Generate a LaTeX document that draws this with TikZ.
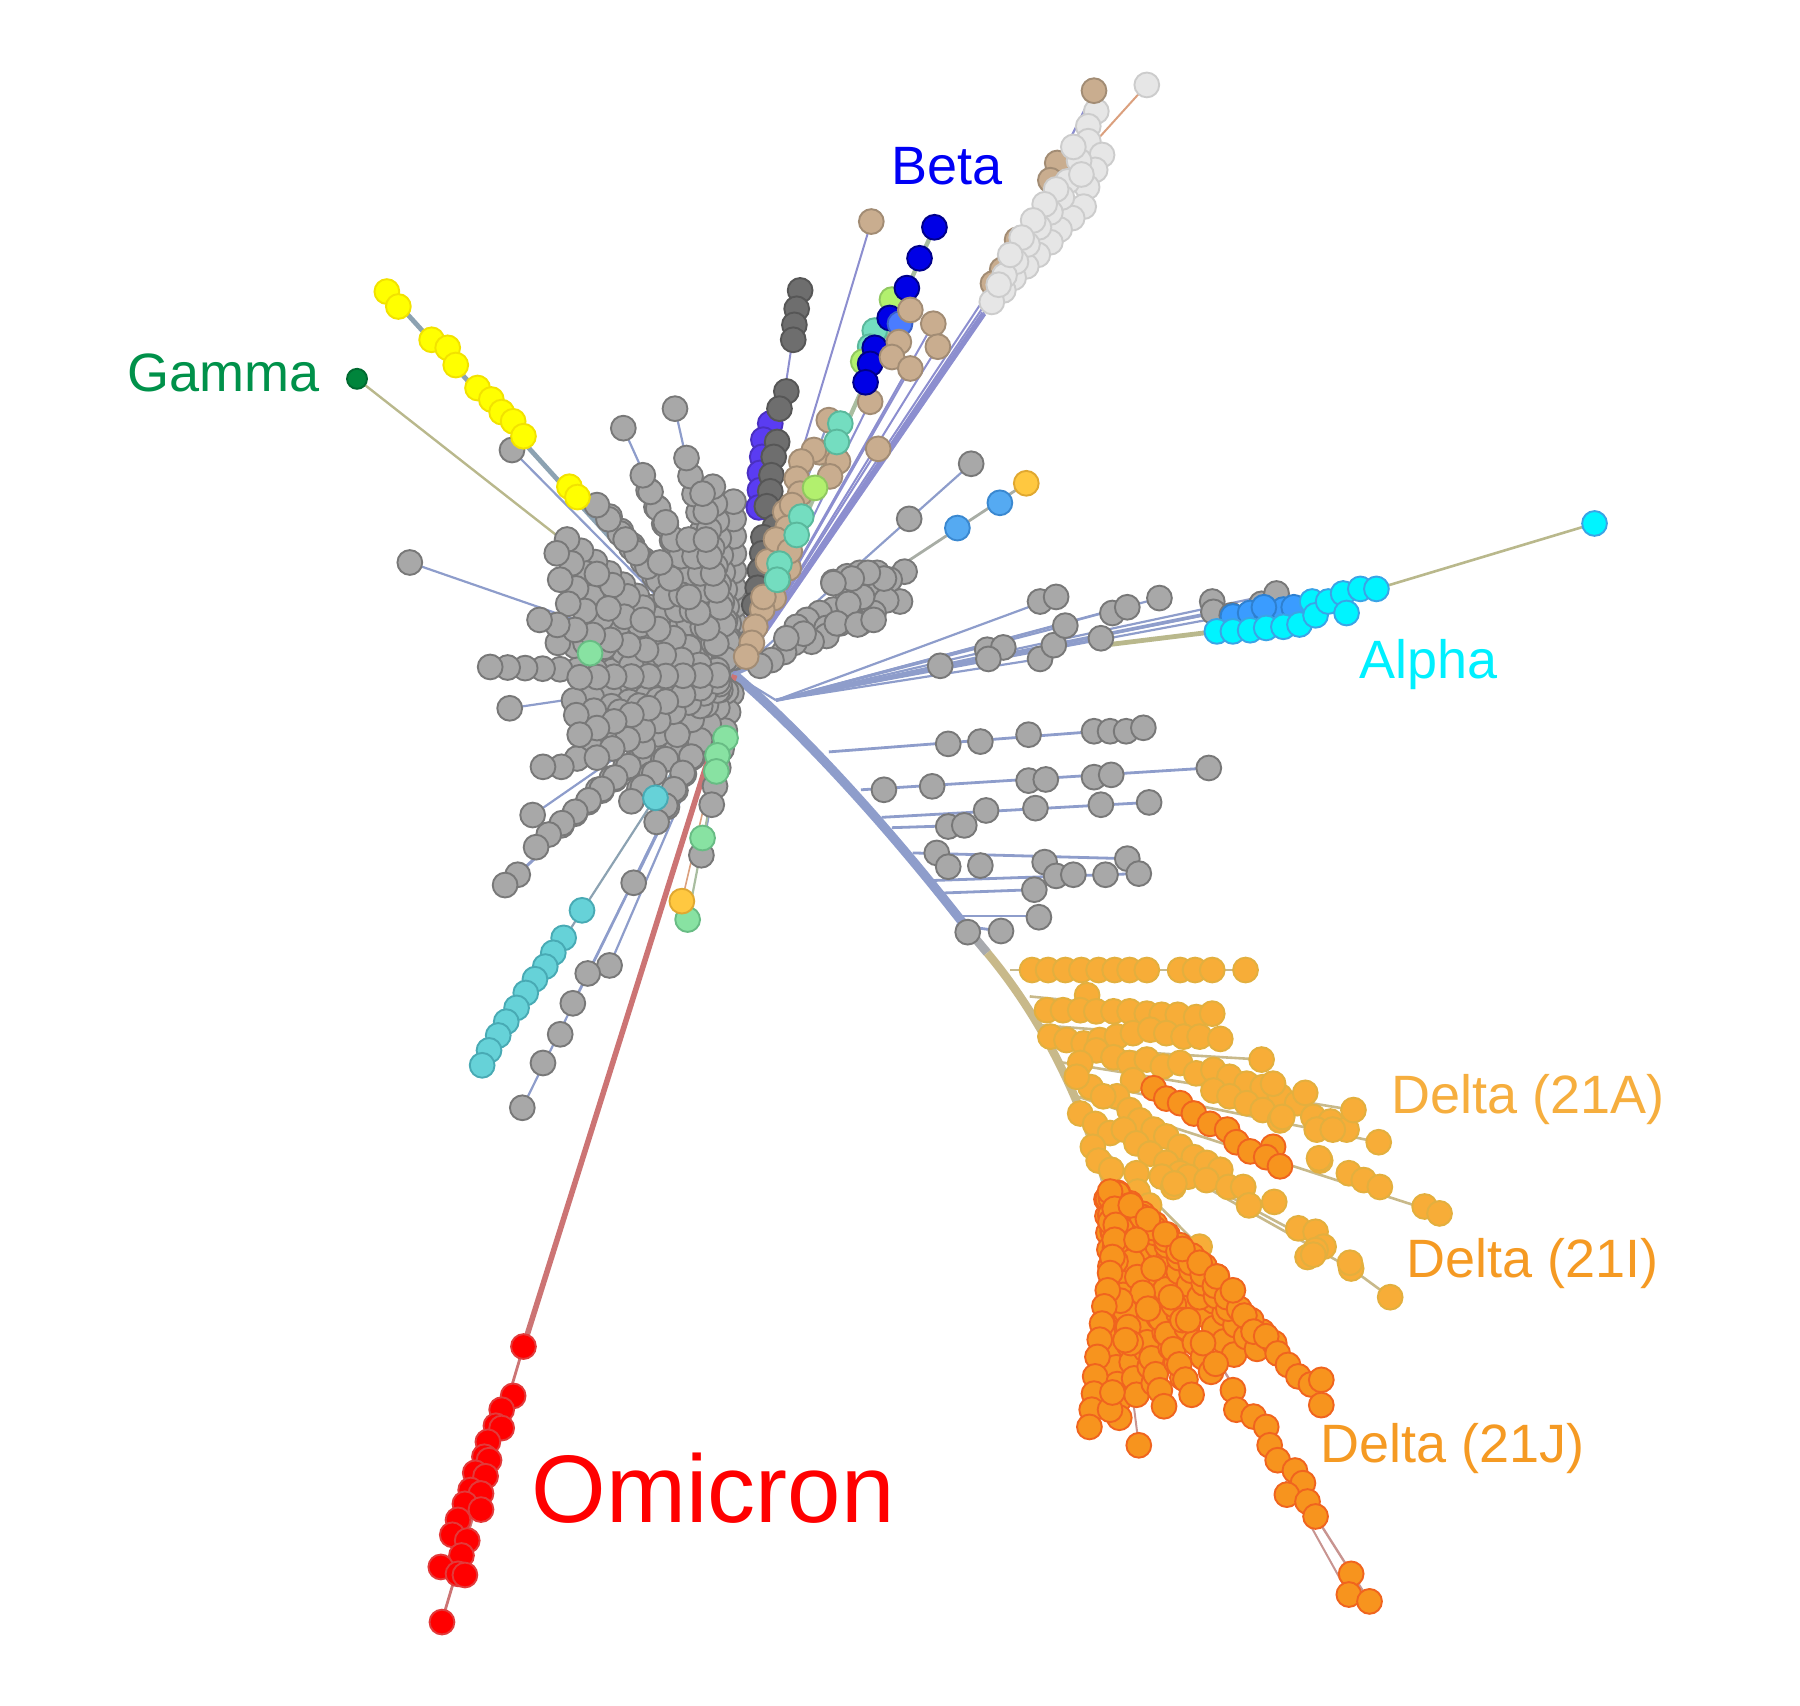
\documentclass[tikz,border=0pt]{standalone}
\usepackage{fontspec}
\setmainfont{Liberation Sans}
\usetikzlibrary{calc}

% dot colours (fill / rim)
\definecolor{gfill}{HTML}{A8A8A8}\definecolor{gedge}{HTML}{787878}
\definecolor{kfill}{HTML}{6E6E6E}\definecolor{kedge}{HTML}{565656}
\definecolor{wfill}{HTML}{E6E6E6}\definecolor{wedge}{HTML}{CCCCCC}
\definecolor{tfill}{HTML}{C9AD8F}\definecolor{tedge}{HTML}{A28C74}
\definecolor{bfill}{HTML}{0000E6}\definecolor{bedge}{HTML}{00008A}
\definecolor{pfill}{HTML}{5A3CF2}\definecolor{pedge}{HTML}{4A30C0}
\definecolor{mfill}{HTML}{74DDC0}\definecolor{medge}{HTML}{5AB89C}
\definecolor{lfill}{HTML}{B2F06E}\definecolor{ledge}{HTML}{90C860}
\definecolor{cfill}{HTML}{66D2D8}\definecolor{cedge}{HTML}{48AAB4}
\definecolor{efill}{HTML}{88E2A2}\definecolor{eedge}{HTML}{68BC84}
\definecolor{afill}{HTML}{00F4FF}\definecolor{aedge}{HTML}{3AA4E6}
\definecolor{sfill}{HTML}{55AAF2}\definecolor{sedge}{HTML}{3A88D0}
\definecolor{vfill}{HTML}{3A9CFF}\definecolor{vedge}{HTML}{2E80D0}
\definecolor{nfill}{HTML}{4A7CFF}\definecolor{nedge}{HTML}{3A60C8}
\definecolor{ufill}{HTML}{FFC840}\definecolor{uedge}{HTML}{E0A830}
\definecolor{ofill}{HTML}{F7AD38}\definecolor{oedge}{HTML}{E3AF3E}
\definecolor{jfill}{HTML}{F7941E}\definecolor{jedge}{HTML}{F0641E}
\definecolor{rfill}{HTML}{FF0000}\definecolor{redge}{HTML}{E23A3A}
\definecolor{yfill}{HTML}{FFFF00}\definecolor{yedge}{HTML}{F2E200}
\definecolor{zfill}{HTML}{00853C}\definecolor{zedge}{HTML}{006A30}
% line colours
\definecolor{twigc}{HTML}{8E9DCB}
\definecolor{purpc}{HTML}{8C8ECF}
\definecolor{tanc}{HTML}{C8B98A}
\definecolor{redc}{HTML}{CC7474}
\definecolor{olivec}{HTML}{B9B88C}
\definecolor{rosyc}{HTML}{C89490}
\definecolor{sagec}{HTML}{A9BDA0}
\definecolor{steelc}{HTML}{8CA2B2}
\definecolor{brownc}{HTML}{DBA07E}
% label colours
\definecolor{betac}{HTML}{0000F5}
\definecolor{gammac}{HTML}{00914A}
\definecolor{alphac}{HTML}{00F0FF}
\definecolor{dac}{HTML}{F6AE3E}
\definecolor{dic}{HTML}{F59A23}
\definecolor{djc}{HTML}{F59A23}
\definecolor{omic}{HTML}{FF0000}

\tikzset{
  blob/.style={line width=0.95pt},
  gdot/.style={blob,fill=gfill,draw=gedge},
  kdot/.style={blob,fill=kfill,draw=kedge},
  wdot/.style={blob,fill=wfill,draw=wedge},
  tdot/.style={blob,fill=tfill,draw=tedge},
  bdot/.style={blob,fill=bfill,draw=bedge},
  pdot/.style={blob,fill=pfill,draw=pedge},
  mdot/.style={blob,fill=mfill,draw=medge},
  ldot/.style={blob,fill=lfill,draw=ledge},
  cdot/.style={blob,fill=cfill,draw=cedge},
  edot/.style={blob,fill=efill,draw=eedge},
  adot/.style={blob,fill=afill,draw=aedge},
  sdot/.style={blob,fill=sfill,draw=sedge},
  vdot/.style={blob,fill=vfill,draw=vedge},
  ndot/.style={blob,fill=nfill,draw=nedge},
  udot/.style={blob,fill=ufill,draw=uedge},
  odot/.style={blob,fill=ofill,draw=oedge},
  jdot/.style={blob,fill=jfill,draw=jedge},
  rdot/.style={blob,fill=rfill,draw=redge},
  ydot/.style={blob,fill=yfill,draw=yedge},
  zdot/.style={blob,fill=zfill,draw=zedge},
  twig/.style={draw=twigc,line width=1.1pt},
  tag/.style={font=\fontsize{27}{30}\selectfont,anchor=base west,inner sep=0pt},
}
\def\rr{6.2pt}
\newcommand\blobs[2]{\foreach \bx/\by in {#2} \path[#1] (\bx,\by) circle[radius=\rr];}

\def\hubtips{639/437,621/424,598/399,612/430,565/427,560/414,531/450,520/440,494/470,485/482,488/505,495/526,486/560,427/581,500/610,502/623,489/668,521/688,489/719,478/727,557/687,581/703,620/701,550/698,572/716,545/470,580/455,600/470,615/470,520/500,530/530,510/560,540/620,560/650,590/640,610/615,580/520,560/540,550/580,575/490,600/520,520/660,505/640,470/540,505/590}
\def\hubsingles{588/356,543/373,357/490,444/617,446/392,473/668,464/710,467/738,451/762,440/771,552/769,611/745}
\def\jtips{975/1235,990/1215,1005/1205,1014/1225,1030/1200,1038/1215,1055/1195,1075/1180,1095/1175,1110/1170,1030/1150,985/1170,1060/1112,1045/1130,1070/1140,1090/1150,1000/1140}

\begin{document}
\begin{tikzpicture}[x=0.574pt,y=-0.574pt]
\useasboundingbox (0,0) rectangle (1568,1486);
\coordinate (H) at (640,588);
\coordinate (T) at (845,812);
\coordinate (R) at (963,1030);
\coordinate (O) at (456,1173);
\coordinate (A) at (676,610);

% ---------- branches
\foreach \tx/\ty in \hubtips \draw[twig] (H) -- (\tx,\ty);
\foreach \tx/\ty in \hubsingles \draw[twig] (H) -- (\tx,\ty);
\draw[twig] (H) -- (455,965);
\draw[twig] (H) -- (531,841);
\draw[twig] (H) -- (499,874);
\draw[twig,draw=steelc] (H) -- (420,928);
\draw[twig,draw=sagec] (H) -- (599,801);
\draw[brownc,line width=0.8pt] (H) -- (594,785);
\draw[olivec,line width=1.2pt] (311,330) -- (H);
\draw[steelc,line width=2.4pt] (337,254) -- (H);
\draw[purpc,line width=1pt] (697,253) -- (662,482) -- (H);
\draw[twig] (H) -- (722,366);
\draw[sagec,line width=1.4pt] (H) -- (732,369);
\draw[purpc,line width=1pt] (H) -- (758,350);
\draw[purpc,line width=1pt] (H) -- (765,391);
\draw[sagec,line width=2.2pt] (814,198) -- (H);
\foreach \tx/\ty in {759/193,817/302,793/321,813/282} \draw[purpc,line width=1pt] (H) -- (\tx,\ty);
\draw[purpc,line width=2.8pt] (H) -- (857,273);
\draw[purpc,line width=1.1pt] (857,273) -- (953,79);
\draw[purpc,line width=1pt] (H) -- (866,247);
\draw[purpc,line width=1pt] (H) -- (875,240);
\draw[brownc,line width=1pt] (932,148) -- (999,74);
\draw[twig] (H) -- (846,404);
\draw[olivec!60!twigc,line width=1.4pt] (H) -- (894,421);
\foreach \tx/\ty in {788/498,784/524,775/505} \draw[twig] (H) -- (\tx,\ty);
\draw[twig] (H) -- (A);
\foreach \tx/\ty in {920/520,982/528,1010/521,1112/517,1099/526,1073/536,819/580,874/564,906/574,928/545,959/556} \draw[twig] (A) -- (\tx,\ty);
\draw[twig,line width=1.8pt] (A) -- (1056,534);
\draw[olivec,line width=2.4pt] (962,562) -- (1060,550);
\draw[olivec,line width=1.3pt] (1199,513) -- (1389,456);
% trunk to Delta
\draw[twigc,line width=4.6pt] (H) .. controls (695,635) and (770,715) .. (T);
\draw[twigc!55!tanc,line width=4.4pt] (T) -- (860,830);
\draw[tanc,line width=4.2pt] (860,830) .. controls (895,872) and (935,935) .. (R);
\foreach \sx/\sy/\ex/\ey in {722/655/996/634,750/688/1053/669,768/712/1001/699,777/721/840/719,795/743/982/748,813/767/992/761,819/778/901/775,838/798/905/798,833/806/872/811}
  \draw[twig,line width=1.4pt] (\sx,\sy) -- (\ex,\ey);
\foreach \sx/\sy/\ex/\ey in {880/845/1085/845,897/868/1056/884,905/893/1063/905,915/912/1099/923,922/925/1179/967,930/940/1201/995,938/955/1254/1057,945/975/1177/1105,1177/1105/1211/1130,945/975/1153/1086,955/995/1045/1086,985/940/1115/1016}
  \draw[tanc,line width=1.3pt] (\sx,\sy) -- (\ex,\ey);
\foreach \tx/\ty in \jtips \draw[rosyc,line width=1pt] (R) -- (\tx,\ty);
\draw[rosyc,line width=1.2pt] (R) -- (1146,1321) -- (1193,1395);
\draw[rosyc,line width=1pt] (1120,1290) -- (1175,1389);
\draw[rosyc,line width=1pt] (R) -- (1151,1224);
\draw[rosyc,line width=1pt] (R) -- (992,1259);
\draw[rosyc,line width=1pt] (R) -- (950,1243);
% Omicron stem
\draw[redc,line width=2.8pt] (H) -- (O);
\draw[redc,line width=1.4pt] (O) -- (385,1412);

% ---------- dots: central cluster
\foreach \tx/\ty in \hubtips {
  \pgfmathtruncatemacro\nd{veclen(\tx-640,\ty-588)/15}
  \foreach \k in {1,...,\nd} \path[gdot] ($(H)!{\k/\nd}!(\tx,\ty)$) circle[radius=\rr];
}
\foreach \tx/\ty in \hubsingles \path[gdot] (\tx,\ty) circle[radius=\rr];
\blobs{edot}{514/569}
\blobs{gdot}{531/841,512/848,499/874,488/901,473/926,455/965}
\blobs{cdot}{571/695,507/793,491/817,482/830,475/842,466/853,458/865,450/878,441/890,434/902,426/915,420/928}
\blobs{edot}{632/643,625/658,624/672,612/730,599/801}
\blobs{udot}{594/785}
% right of the hub
\blobs{gdot}{788/498,784/524,726/507,738/502,749/499,764/499,775/505,761/511,749/520,738/523,726/531,714/534,703/540,694/546,740/534,732/543,720/547,772/523,761/534,749/543,720/554,707/559,692/560,683/568,751/520,739/526,770/504,756/499,742/504,726/508,729/543,747/544,761/540,672/575,662/580,700/552,685/556}
\blobs{gdot}{906/524,920/520,969/534,982/529,1010/521,1056/524,1057/533,1073/536,1099/526,1112/517,819/580,860/566,874/564,861/574,906/574,918/562,928/545,959/556}
\blobs{gdot}{826/648,854/646,896/640,953/637,967/637,981/637,996/634,770/688,812/685,896/680,911/679,953/677,968/675,1053/669,859/706,902/704,959/701,1001/699,826/720,840/719,816/743,826/755,854/754,910/751,982/748,920/763,935/762,963/762,992/761,901/775,905/799,872/811,843/812}
% Gamma and the yellow branch
\blobs{ydot}{337/254,347/267,376/296,390/303,397/318,416/338,428/348,437/359,447/367,456/380,496/424,503/433}
\path[zdot] (311,330) circle[radius=5pt];
% dark column
\blobs{pdot}{671/369,665/383,664/398,662/412,662/427,661/442}
\blobs{kdot}{697/253,694/269,692/283,691/296,685/341,679/356,677/385,674/398,672/414,671/428,668/441,675/459,665/468,664/482,662/497,660/512,657/527}
% tan and teal column
\blobs{tdot}{722/366,714/394,709/392,698/402,694/417,730/402,723/415,697/430,684/446,681/476,687/495,669/489,674/521,664/531,658/546,690/440,686/460,678/505,676/470,688/480,665/520,655/560,650/572,758/350,765/391}
\blobs{mdot}{732/369,729/385,698/450,694/466,679/491,677/505}
\blobs{ldot}{710/425}
% Beta
\blobs{mdot}{762/288,758/302}
\blobs{ldot}{777/261,752/315}
\blobs{bdot}{814/198,801/225,790/251,775/277,762/303,758/317,754/333}
\blobs{ndot}{784/282}
\blobs{tdot}{793/270,813/282,783/298,817/302,777/311,793/321,759/193}
% light grey branch
\blobs{tdot}{921/142,915/157,886/209,873/235,865/247}
\blobs{wdot}{999/74,955/97,948/110,948/123,960/135,954/148,947/163,944/180,934/190,923/200,915/211,904/222,894/232,883/242,874/253,864/263,940/140,930/158,925/172,915/185,905/198,895/213,885/228,875/240,935/128,942/152,920/165,910/178,900/192,890/207,880/222,870/248}
\blobs{tdot}{953/79}
\blobs{gdot}{792/452,846/404}
\blobs{sdot}{834/460,871/438}
\blobs{udot}{894/421}
% Alpha
\blobs{vdot}{1074/537,1089/534,1103/533,1118/531,1127/529,1101/529}
\blobs{adot}{1060/550,1074/550,1089/549,1103/547,1118/546,1132/544,1143/524,1146/536,1157/524,1170/517,1185/513,1199/513,1173/534,1389/456}
% Delta 21A / 21I
\blobs{odot}{899/845,913/845,928/845,942/845,957/845,971/845,984/845,999/845,1028/845,1041/845,1056/845,1085/845}
\blobs{odot}{947/867,912/880,926/880,941/880,955/881,970/881,984/881,999/883,1012/884,1026/884,1042/886,1056/883}
\blobs{odot}{915/903,929/906,944/909,958/906,973/903,987/900,1002/897,1016/900,1031/903,1045/903,1063/905}
\blobs{odot}{955/915,941/926,970/921,984/926,999/923,1013/929,1028/926,1042/935,1057/932,1071/938,1086/944,1100/947,1099/923,1115/955,1130/961,1144/973,1159/977,1173/984,1179/967,1109/944,1137/952,1057/950,1071/955,1086/961,1100/967,1115/976,987/941,950/947,973/955,984/967,993/976,1005/984,1016/990,1028/999,1040/1008,1051/1013,1063/1019,938/938,961/955,941/970,954/979,967/987,979/984,990/996,1002/1005,1016/1013,1028/1022}
\blobs{odot}{952/999,957/1011,968/1019,990/1022,1012/1025,1022/1034,1035/1025,1051/1028,1070/1034,1083/1034,1000/1051,990/1040,1045/1086,1117/973,1147/984,1161/984,1150/1011,1175/1022,1188/1028,1202/1034,1201/995,1241/1051,1254/1057,1088/1050,1110/1047,1131/1070,1146/1073,1139/1095,1153/1086,1146/1089,1177/1105,1211/1130,1144/1093,1176/1100,1149/1009,991/1038,1001/1050,1023/1031}
\blobs{jdot}{1005/948,1016/957,1028/961,1040/970,1054/979,1069/984,1077/995,1089/1003,1109/999,1103/1008,1115/1016}
% Delta 21J
\foreach \tx/\ty in \jtips {
  \pgfmathtruncatemacro\nd{veclen(\tx-963,\ty-1030)/14}
  \foreach \k in {1,...,\nd} \path[jdot] ($(R)!{\k/\nd}!(\tx,\ty)$) circle[radius=\rr];
}
\foreach \f in {0.15,0.3,0.45,0.6,1} \path[jdot] ($(R)!\f!(992,1259)$) circle[radius=\rr];
\blobs{jdot}{967/1038,971/1053,972/1067,971/1080,969/1095,967/1109,965/1124,962/1138,960/1153,958/1167,956/1182,954/1199,953/1214,951/1228,949/1243,967/1228,969/1213}
\blobs{jdot}{985/1050,1000/1062,1015/1075,1030/1088,1045/1100,1060/1112,1074/1124,1084/1146,1092/1160,1103/1164,1113/1179,1122/1189,1131/1199,1142/1206,1151/1202,1151/1224}
\blobs{jdot}{990/1080,1005/1105,1020/1130,1035/1150,1048/1170,1059/1188,1074/1211,1077/1228,1092/1234,1103/1243,1106/1259,1113/1272,1128/1281,1135/1292,1121/1302,1139/1308,1146/1321,1177/1371,1175/1389,1193/1395}
% Omicron
\blobs{rdot}{456/1173,447/1216,437/1228,432/1242,437/1244,425/1256,422/1269,426/1272,414/1283,423/1286,410/1298,419/1301,405/1310,419/1315,399/1324,394/1337,407/1342,402/1355,384/1365,399/1371,405/1372,385/1413}

% ---------- labels
\node[tag,text=betac] (beta) at (776,161) {Beta};
\node[tag,text=gammac] (gamma) at (111,341) {Gamma};
\node[tag,text=alphac] (alpha) at (1184,591) {Alpha};
\node[tag,text=dac] (d21a) at (1212,970) {Delta (21A)};
\node[tag,text=dic] (d21i) at (1225,1113) {Delta (21I)};
\node[tag,text=djc] (d21j) at (1150,1274) {Delta (21J)};
\node[tag,font=\fontsize{48}{52}\selectfont,text=omic] (omicron) at (463,1326) {Omicron};
\end{tikzpicture}
\end{document}
